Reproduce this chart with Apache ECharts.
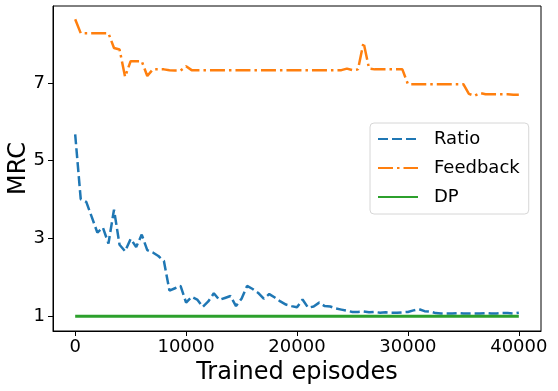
<!DOCTYPE html>
<html>
<head>
<meta charset="utf-8">
<script src="https://cdn.jsdelivr.net/npm/echarts@6/dist/echarts.min.js"></script>
<style>
  html, body { margin: 0; padding: 0; background: #fff; }
  #chart { width: 558px; height: 391px; }
</style>
</head>
<body>
<div id="chart"></div>
<script>
// episodes sampled every 500 steps
const episodes = Array.from({ length: 81 }, (_, i) => i * 500)

const ratioValues = [
  5.68, 4.01, 3.94, 3.55, 3.15, 3.28, 2.87, 3.74, 2.84, 2.67,
  2.99, 2.78, 3.10, 2.70, 2.64, 2.55, 2.42, 1.66, 1.72, 1.78,
  1.35, 1.50, 1.43, 1.24, 1.38, 1.59, 1.42, 1.47, 1.52, 1.26,
  1.45, 1.78, 1.70, 1.60, 1.45, 1.57, 1.48, 1.38, 1.30, 1.26,
  1.23, 1.43, 1.22, 1.25, 1.35, 1.26, 1.25, 1.20, 1.17, 1.14,
  1.11, 1.11, 1.12, 1.10, 1.11, 1.09, 1.10, 1.09, 1.09, 1.10,
  1.11, 1.15, 1.18, 1.13, 1.12, 1.08, 1.07, 1.07, 1.07, 1.08,
  1.07, 1.07, 1.07, 1.07, 1.08, 1.07, 1.07, 1.08, 1.08, 1.07,
  1.09,
]

const feedbackValues = [
  8.64, 8.28, 8.28, 8.28, 8.28, 8.28, 8.28, 7.90, 7.86, 7.16,
  7.56, 7.56, 7.56, 7.18, 7.35, 7.35, 7.35, 7.33, 7.32, 7.32,
  7.43, 7.33, 7.33, 7.33, 7.33, 7.33, 7.33, 7.33, 7.33, 7.33,
  7.33, 7.33, 7.33, 7.33, 7.33, 7.33, 7.33, 7.33, 7.33, 7.33,
  7.33, 7.33, 7.33, 7.33, 7.33, 7.33, 7.33, 7.33, 7.33, 7.37,
  7.33, 7.35, 8.04, 7.37, 7.35, 7.35, 7.35, 7.35, 7.35, 7.35,
  6.97, 6.97, 6.97, 6.97, 6.97, 6.97, 6.97, 6.97, 6.97, 6.97,
  6.97, 6.72, 6.67, 6.74, 6.71, 6.71, 6.71, 6.71, 6.71, 6.70,
  6.70,
]

const dpEpisodes = [0, 40000]
const dpValues = [1, 1]

const xTicks = [0, 10000, 20000, 30000, 40000]
const yTicks = [1, 3, 5, 7]

const font = 'DejaVu Sans'

function pairs(xs, ys) {
  return xs.map((x, i) => [x, ys[i]])
}

const chart = echarts.init(document.getElementById('chart'), null, { renderer: 'canvas' })
const option = {
  animation: false,
  color: ['#1f77b4', '#ff7f0e', '#2ca02c'],
  grid: {
    left: 53,
    right: 17,
    top: 6,
    bottom: 60,
    containLabel: false,
    outerBoundsMode: 'none',
    show: true,
    borderColor: '#000',
    borderWidth: 1,
    backgroundColor: 'transparent',
  },
  legend: {
    orient: 'vertical',
    left: 370,
    top: 123,
    itemWidth: 40,
    itemHeight: 14,
    itemGap: 9,
    padding: [6, 9, 7, 7],
    backgroundColor: '#fff',
    borderColor: '#d6d6d6',
    borderWidth: 1,
    borderRadius: 4,
    itemStyle: { opacity: 0 },
    textStyle: {
      fontFamily: font,
      fontSize: 18,
      color: '#000',
      lineHeight: 20,
      padding: [0, 0, 0, 11],
    },
    data: ['Ratio', 'Feedback', 'DP'],
  },
  xAxis: {
    type: 'value',
    min: -2000,
    max: 42000,
    name: 'Trained episodes',
    nameLocation: 'middle',
    nameGap: 30,
    nameMoveOverlap: false,
    nameTextStyle: { fontFamily: font, fontSize: 24, color: '#000', verticalAlign: 'top' },
    axisLine: { show: true, onZero: false, lineStyle: { color: '#000', width: 1 } },
    axisTick: { show: true, length: 5, inside: false, customValues: xTicks, lineStyle: { color: '#000' } },
    axisLabel: {
      customValues: xTicks,
      formatter: (v) => String(v),
      fontFamily: font,
      fontSize: 18,
      color: '#000',
      margin: 7,
    },
    splitLine: { show: false },
  },
  yAxis: {
    type: 'value',
    min: 0.62,
    max: 8.98,
    name: 'MRC',
    nameLocation: 'middle',
    nameGap: 22,
    nameRotate: 90,
    nameMoveOverlap: false,
    nameTextStyle: { fontFamily: font, fontSize: 24, color: '#000', verticalAlign: 'bottom' },
    axisLine: { show: true, onZero: false, lineStyle: { color: '#000', width: 1 } },
    axisTick: { show: true, length: 5, inside: false, customValues: yTicks, lineStyle: { color: '#000' } },
    axisLabel: {
      customValues: yTicks,
      formatter: (v) => String(v),
      fontFamily: font,
      fontSize: 18,
      color: '#000',
      margin: 8,
    },
    splitLine: { show: false },
  },
  series: [
    {
      name: 'Ratio',
      type: 'line',
      data: pairs(episodes, ratioValues),
      symbol: 'none',
      lineStyle: { width: 2.5, type: [10, 4], cap: 'butt' },
    },
    {
      name: 'Feedback',
      type: 'line',
      data: pairs(episodes, feedbackValues),
      symbol: 'none',
      lineStyle: { width: 2.5, type: [15, 4, 2.5, 4], cap: 'butt' },
    },
    {
      name: 'DP',
      type: 'line',
      data: pairs(dpEpisodes, dpValues),
      symbol: 'none',
      lineStyle: { width: 3 },
    },
  ],
}
chart.setOption(option)
</script>
</body>
</html>
